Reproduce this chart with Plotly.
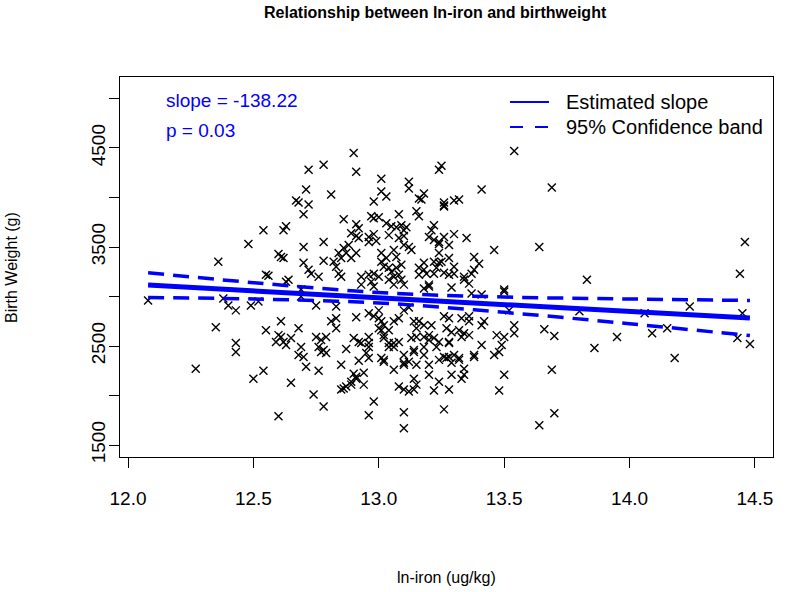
import plotly.graph_objects as go

# ---- data ----
iron = [12.08,12.36,12.38,12.40,12.43,12.35,12.43,12.43,12.27,12.72,12.78,12.71,12.67,12.68,12.72,12.70,12.54,12.63,12.62,12.48,
        12.70,12.78,12.60,12.61,12.62,12.70,12.72,12.73,12.76,12.78,12.55,12.56,12.64,12.63,12.69,12.69,12.49,12.52,12.75,12.61,
        12.55,12.68,12.60,12.61,12.59,12.62,12.63,12.65,12.75,12.77,12.76,12.77,12.78,12.79,12.69,12.68,12.70,12.71,12.54,12.50,
        12.76,12.65,12.74,12.78,12.60,12.90,12.91,13.01,13.12,13.12,12.81,13.01,13.03,12.98,12.86,12.97,12.98,13.00,13.08,12.91,
        12.92,13.03,13.05,13.07,13.09,13.10,13.11,12.89,12.91,12.92,12.96,12.98,12.99,12.96,13.04,13.08,13.10,13.10,13.12,12.88,
        12.86,12.84,12.87,12.91,12.89,12.85,13.01,13.03,13.06,13.07,13.01,12.82,12.83,12.84,12.85,13.02,13.04,13.05,13.07,13.09,
        13.06,13.08,12.93,12.96,12.98,13.00,12.93,12.97,12.98,13.04,13.06,13.09,13.10,12.83,12.91,12.96,12.98,13.00,13.00,13.01,
        13.02,13.10,13.12,12.81,12.83,12.83,13.00,13.01,13.02,13.04,13.06,13.08,12.79,13.02,13.04,13.06,13.04,13.06,13.08,12.90,
        12.92,12.93,12.96,12.96,12.87,12.96,12.95,12.96,12.92,13.01,13.02,13.02,13.10,13.10,13.10,13.12,12.85,12.90,12.91,12.89,
        12.91,12.94,13.06,12.86,12.87,12.89,12.85,12.94,13.08,13.10,13.12,12.98,12.96,13.10,13.10,13.25,13.24,13.18,13.16,13.17,
        13.26,13.26,13.26,13.30,13.32,13.41,13.15,13.16,13.22,13.21,13.20,13.22,13.24,13.26,13.24,13.30,13.35,13.28,13.13,13.46,
        13.24,13.22,13.24,13.25,13.23,13.18,13.16,13.18,13.16,13.19,13.22,13.26,13.28,13.30,13.30,13.28,13.38,13.40,13.38,13.37,
        13.34,13.20,13.20,13.18,13.29,13.34,13.36,13.37,13.41,13.26,13.28,13.33,13.36,13.36,13.42,13.41,13.14,13.16,13.18,13.21,
        13.15,13.27,13.29,13.32,13.34,13.36,13.33,13.13,13.15,13.18,13.20,13.20,13.22,13.24,13.23,13.28,13.28,13.47,13.41,13.38,
        13.38,13.14,13.14,13.18,13.18,13.24,13.26,13.27,13.28,13.30,13.32,13.32,13.29,13.46,13.48,13.15,13.20,13.20,13.34,13.34,
        13.33,13.29,13.14,13.15,13.14,13.24,13.22,13.28,13.48,13.26,13.54,13.69,13.64,13.83,13.50,13.50,13.80,13.52,13.54,13.54,
        13.66,13.70,13.50,13.49,13.95,13.86,13.50,13.69,13.70,13.64,14.46,14.44,14.24,14.06,14.45,14.09,14.15,14.43,14.48,14.18]

birthweight = [2960,3350,2980,2910,2860,2690,2530,2440,2270,4280,4330,4080,3970,3950,3930,3830,3670,3710,3670,3530,
               3500,3550,3430,3400,3390,3340,3270,3230,3200,3360,3220,3210,3170,3150,3070,3000,2910,2950,2910,2750,
               2660,2680,2610,2590,2540,2540,2510,2580,2590,2560,2490,2440,2460,2430,2490,2410,2390,2290,2250,2170,
               2250,2130,2010,1890,1790,4450,4260,4190,4160,4090,4030,4060,4010,3960,3780,3810,3790,3800,3830,3730,
               3690,3740,3710,3700,3720,3670,3700,3640,3610,3590,3600,3630,3560,3550,3620,3590,3610,3520,3500,3520,
               3490,3440,3440,3440,3390,3390,3440,3390,3470,3400,3350,3350,3300,3230,3200,3300,3290,3250,3290,3320,
               3200,3220,3200,3220,3230,3200,3120,3150,3100,3170,3120,3170,3120,2900,2790,2830,2800,2860,2780,2750,
               2710,2860,2890,2750,2780,2680,2680,2660,2610,2660,2750,2780,2590,2580,2530,2490,2490,2530,2540,2580,
               2540,2530,2530,2590,2470,2490,2430,2380,2350,2380,2360,2340,2410,2330,2310,2340,2310,2220,2170,2140,
               2190,2230,2260,2070,2090,2110,2060,2110,2090,2060,2040,1940,1800,1830,1670,4320,4280,4040,3990,3980,
               3950,3910,3920,3970,3980,4080,3860,3810,3720,3670,3600,3570,3550,3600,3530,3630,3590,3520,3470,3470,
               3440,3350,3340,3350,3290,3340,3290,3270,3220,3230,3230,3240,3390,3300,3230,3220,3400,3330,3270,3230,
               3200,3100,3120,3080,3090,3170,3130,3030,3020,2800,2780,2780,2800,2750,2750,2710,2750,2750,2710,2710,
               2680,2680,2640,2660,2630,2610,2590,2580,2590,2590,2610,2560,2580,2540,2490,2530,2540,2610,2510,2410,
               2390,2440,2460,2490,2410,2360,2390,2380,2390,2410,2380,2360,2330,2410,2440,2310,2310,2210,2270,2210,
               2170,2210,2170,2110,2060,2140,2050,2060,2050,1860,4470,4100,3500,3170,3050,3070,2850,2860,2710,2630,
               2670,2600,2590,2510,2590,2480,2210,2260,1820,1700,3550,3230,2900,2830,2830,2630,2680,2580,2520,2380]

fit_x = [12.08, 14.48]
fit_y = [3115, 2783]

band_x = [12.08, 12.5, 13.0, 13.5, 14.0, 14.48]
band_upper = [3240, 3140, 3040, 2995, 2975, 2960]
band_lower = [2990, 2975, 2935, 2840, 2725, 2605]

x_ticks = [12.0, 12.5, 13.0, 13.5, 14.0, 14.5]
x_ticktext = ["12.0", "12.5", "13.0", "13.5", "14.0", "14.5"]
y_ticks = [1500, 2000, 2500, 3000, 3500, 4000, 4500, 5000]
y_ticktext = ["1500", "", "2500", "", "3500", "", "4500", ""]

legend_labels = ["Estimated slope", "95% Confidence band"]
slope_text = "slope = -138.22"
p_text = "p = 0.03"

BLUE = "#0000FF"
FONT = "Liberation Sans, Arial, Helvetica, sans-serif"

fig = go.Figure()

fig.add_trace(go.Scatter(
    x=iron, y=birthweight, mode="markers", showlegend=False, hoverinfo="skip",
    marker=dict(symbol="x-thin", size=8, color="black", line=dict(color="black", width=1.4)),
))

fig.add_trace(go.Scatter(x=fit_x, y=fit_y, mode="lines", showlegend=False,
                         line=dict(color=BLUE, width=5)))
fig.add_trace(go.Scatter(x=band_x, y=band_upper, mode="lines", showlegend=False,
                         line=dict(color=BLUE, width=3.5, dash="16px,9px", shape="spline")))
fig.add_trace(go.Scatter(x=band_x, y=band_lower, mode="lines", showlegend=False,
                         line=dict(color=BLUE, width=3.5, dash="16px,9px", shape="spline")))

L, R, T, B = 120, 27, 77, 135
W, H = 800, 592
pw, ph = W - L - R, H - T - B

def px_x(px):
    return (px - L) / pw

def px_y(py):
    return 1 - (py - T) / ph

fig.update_layout(
    width=W, height=H,
    margin=dict(l=L, r=R, t=T, b=B),
    paper_bgcolor="white", plot_bgcolor="white",
    font=dict(family=FONT, color="black"),
    showlegend=False,
)

fig.update_xaxes(
    range=[11.968, 14.572], tickvals=x_ticks, ticktext=x_ticktext,
    showgrid=False, zeroline=False, showline=True, mirror=True,
    linecolor="black", linewidth=1, ticks="outside", ticklen=10, tickwidth=1,
    tickcolor="black", tickfont=dict(size=19, family=FONT), ticklabelstandoff=14,
)
fig.update_yaxes(
    range=[1379, 5217], tickvals=y_ticks, ticktext=y_ticktext, tickangle=-90,
    showgrid=False, zeroline=False, showline=True, mirror=True,
    linecolor="black", linewidth=1, ticks="outside", ticklen=10, tickwidth=1,
    tickcolor="black", tickfont=dict(size=19, family=FONT), ticklabelstandoff=-4,
)

# manual legend (line samples + labels)
legend_rows_y = [102, 127]
shapes = [
    dict(type="line", xref="paper", yref="paper", x0=px_x(510), x1=px_x(549),
         y0=px_y(legend_rows_y[0]), y1=px_y(legend_rows_y[0]),
         line=dict(color=BLUE, width=2.2)),
    dict(type="line", xref="paper", yref="paper", x0=px_x(510), x1=px_x(549),
         y0=px_y(legend_rows_y[1]), y1=px_y(legend_rows_y[1]),
         line=dict(color=BLUE, width=2.2, dash="13px,12px")),
]

annotations = [
    dict(text="<b>Relationship between ln-iron and birthweight</b>", xref="paper", yref="paper",
         x=px_x(435), y=px_y(12), xanchor="center", yanchor="middle", showarrow=False,
         font=dict(size=16, family=FONT, color="black")),
    dict(text=slope_text, xref="paper", yref="paper", x=px_x(164), y=px_y(101),
         xanchor="left", yanchor="middle", showarrow=False,
         font=dict(size=19, family=FONT, color=BLUE)),
    dict(text=p_text, xref="paper", yref="paper", x=px_x(164), y=px_y(130),
         xanchor="left", yanchor="middle", showarrow=False,
         font=dict(size=19, family=FONT, color=BLUE)),
    dict(text="ln-iron (ug/kg)", xref="paper", yref="paper", x=px_x(446), y=px_y(577),
         xanchor="center", yanchor="middle", showarrow=False,
         font=dict(size=16, family=FONT, color="black")),
    dict(text="Birth Weight (g)", xref="paper", yref="paper", x=px_x(11), y=px_y(268),
         xanchor="center", yanchor="middle", showarrow=False, textangle=-90,
         font=dict(size=16, family=FONT, color="black")),
]
for label, ry in zip(legend_labels, legend_rows_y):
    annotations.append(dict(text=label, xref="paper", yref="paper", x=px_x(564), y=px_y(ry),
                            xanchor="left", yanchor="middle", showarrow=False,
                            font=dict(size=20, family=FONT, color="black")))

fig.update_layout(annotations=annotations, shapes=shapes)

fig.write_html(
    "out.html",
    config={"displayModeBar": False},
    post_script="document.body.style.margin='0';document.body.style.overflow='hidden';",
)
